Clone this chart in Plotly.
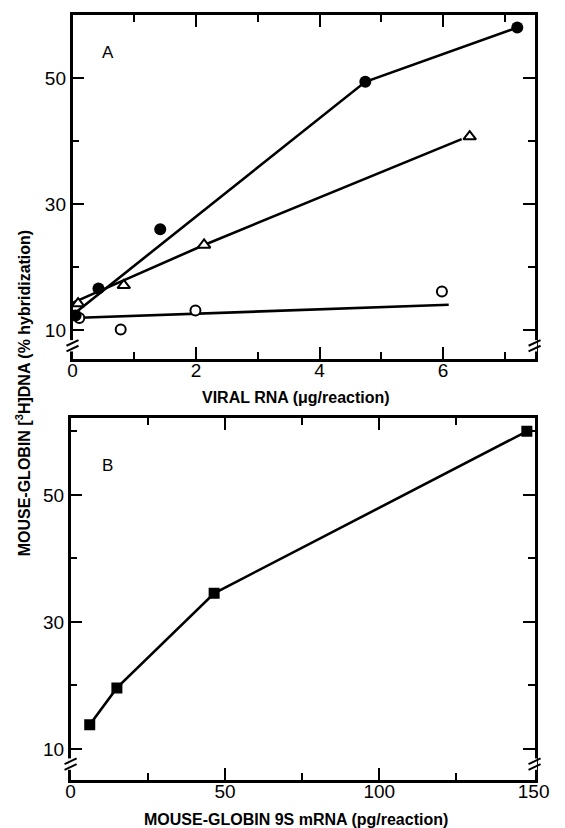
import plotly.graph_objects as go

# ---- Panel A data (viral RNA, ug/reaction vs % hybridization) ----
filled_x = [0.05, 0.42, 1.42, 4.74, 7.2]
filled_y = [12.3, 16.6, 26.0, 49.4, 58.0]
filled_line_x = [0.0, 4.74, 7.2]
filled_line_y = [12.4, 49.4, 58.0]

tri_x = [0.09, 0.83, 2.13, 6.43]
tri_y = [14.2, 17.1, 23.5, 40.7]
tri_line_x = [0.0, 2.13, 6.3]
tri_line_y = [14.3, 23.5, 40.3]

open_x = [0.11, 0.78, 1.99, 5.98]
open_y = [11.9, 10.1, 13.1, 16.1]
open_line_x = [0.0, 6.09]
open_line_y = [11.9, 14.0]

# ---- Panel B data (mouse-globin 9S mRNA, pg/reaction) ----
sq_x = [6.2, 15.0, 46.5, 147.8]
sq_y = [13.8, 19.6, 34.5, 60.0]

xA_ticks = [0, 2, 4, 6]
yA_ticks = [10, 30, 50]
xB_ticks = [0, 50, 100, 150]
yB_ticks = [10, 30, 50]

W, H = 565, 828
def px(x): return x / W
def py(y): return 1 - y / H

fig = go.Figure()
LW = 2.6
blk = "black"

fig.add_trace(go.Scatter(x=filled_line_x, y=filled_line_y, mode="lines",
                         line=dict(color=blk, width=LW), xaxis="x", yaxis="y"))
fig.add_trace(go.Scatter(x=tri_line_x, y=tri_line_y, mode="lines",
                         line=dict(color=blk, width=LW), xaxis="x", yaxis="y"))
fig.add_trace(go.Scatter(x=open_line_x, y=open_line_y, mode="lines",
                         line=dict(color=blk, width=LW), xaxis="x", yaxis="y"))
fig.add_trace(go.Scatter(x=open_x, y=open_y, mode="markers",
                         marker=dict(symbol="circle", size=10, color="white",
                                     line=dict(color=blk, width=2)), xaxis="x", yaxis="y"))
fig.add_trace(go.Scatter(x=tri_x, y=tri_y, mode="markers",
                         marker=dict(symbol="triangle-up", size=11, color="white",
                                     line=dict(color=blk, width=2)), xaxis="x", yaxis="y"))
fig.add_trace(go.Scatter(x=filled_x, y=filled_y, mode="markers",
                         marker=dict(symbol="circle", size=12, color=blk), xaxis="x", yaxis="y"))

fig.add_trace(go.Scatter(x=sq_x, y=sq_y, mode="lines+markers",
                         line=dict(color=blk, width=LW),
                         marker=dict(symbol="square", size=11, color=blk),
                         xaxis="x2", yaxis="y2"))

tickfont = dict(family="Liberation Sans", size=19, color=blk)
titlefont = dict(family="Liberation Sans", size=16, color=blk)

common = dict(showgrid=False, zeroline=False, showline=True, linecolor=blk,
              linewidth=2.5, mirror="ticks", ticks="inside", ticklen=12,
              tickwidth=2, tickcolor=blk, tickfont=tickfont, fixedrange=True)

fig.update_layout(
    width=W, height=H, showlegend=False,
    margin=dict(l=0, r=0, t=0, b=0),
    paper_bgcolor="white", plot_bgcolor="white",
    xaxis=dict(domain=[px(70), px(549)], range=[0, 7.48], anchor="y",
               tickvals=xA_ticks, ticktext=[str(v) for v in xA_ticks],
               ticklabelstandoff=-8,
               minor=dict(dtick=1, ticks="inside", ticklen=7, tickwidth=2, tickcolor=blk),
               **common),
    yaxis=dict(domain=[py(359), py(15)], range=[5.4, 60.0], anchor="x",
               tickvals=yA_ticks, ticktext=[str(v) for v in yA_ticks],
               minor=dict(tickvals=[20, 40], ticks="inside", ticklen=7, tickwidth=2, tickcolor=blk),
               **common),
    xaxis2=dict(domain=[px(68), px(549)], range=[0, 150.3], anchor="y2",
                tickvals=xB_ticks, ticktext=[str(v) for v in xB_ticks],
                ticklabelstandoff=-8,
                minor=dict(tickvals=[25, 75, 125], ticks="inside", ticklen=7, tickwidth=2, tickcolor=blk),
                **common),
    yaxis2=dict(domain=[py(780), py(418)], range=[5.1, 62.1], anchor="x2",
                tickvals=yB_ticks, ticktext=[str(v) for v in yB_ticks],
                minor=dict(tickvals=[20, 40, 60], ticks="inside", ticklen=7, tickwidth=2, tickcolor=blk),
                **common),
)

annotations = [
    dict(text="A", x=0.58, y=54.0, xref="x", yref="y", showarrow=False,
         xanchor="center", yanchor="middle",
         font=dict(family="Liberation Sans", size=17, color=blk)),
    dict(text="B", x=12, y=54.7, xref="x2", yref="y2", showarrow=False,
         xanchor="center", yanchor="middle",
         font=dict(family="Liberation Sans", size=17, color=blk)),
    dict(text="<b>VIRAL RNA (\u03bcg/reaction)</b>", x=px(302), y=py(397),
         xref="paper", yref="paper", showarrow=False, xanchor="center", yanchor="middle",
         font=titlefont),
    dict(text="<b>MOUSE-GLOBIN 9S mRNA (pg/reaction)</b>", x=px(302), y=py(819),
         xref="paper", yref="paper", showarrow=False, xanchor="center", yanchor="middle",
         font=titlefont),
    dict(text="<b>MOUSE-GLOBIN [<sup>3</sup>H]DNA (% hybridization)</b>", x=px(19), y=py(393),
         xref="paper", yref="paper", showarrow=False, textangle=-90,
         xanchor="center", yanchor="middle", font=titlefont),
]
fig.update_layout(annotations=annotations)

# axis break marks
shapes = []
def add_break(xref, yref, xd, yc, du):
    shapes.append(dict(type="line", xref=xref, yref=yref, x0=xd, x1=xd,
                       y0=yc - 0.9 * du, y1=yc + 0.9 * du,
                       line=dict(color="white", width=5)))
    for off in (-0.45 * du, 0.45 * du):
        shapes.append(dict(type="line", xref=xref, yref=yref,
                           x0=xd - 0.013, x1=xd + 0.013,
                           y0=yc + off - 0.45 * du, y1=yc + off + 0.45 * du,
                           line=dict(color=blk, width=2)))

add_break("x domain", "y", 0, 7.5, 1.0)
add_break("x domain", "y", 1, 7.5, 1.0)
add_break("x2 domain", "y2", 0, 7.6, 1.0)
add_break("x2 domain", "y2", 1, 7.6, 1.0)
fig.update_layout(shapes=shapes)

fig.write_html("out.html")
